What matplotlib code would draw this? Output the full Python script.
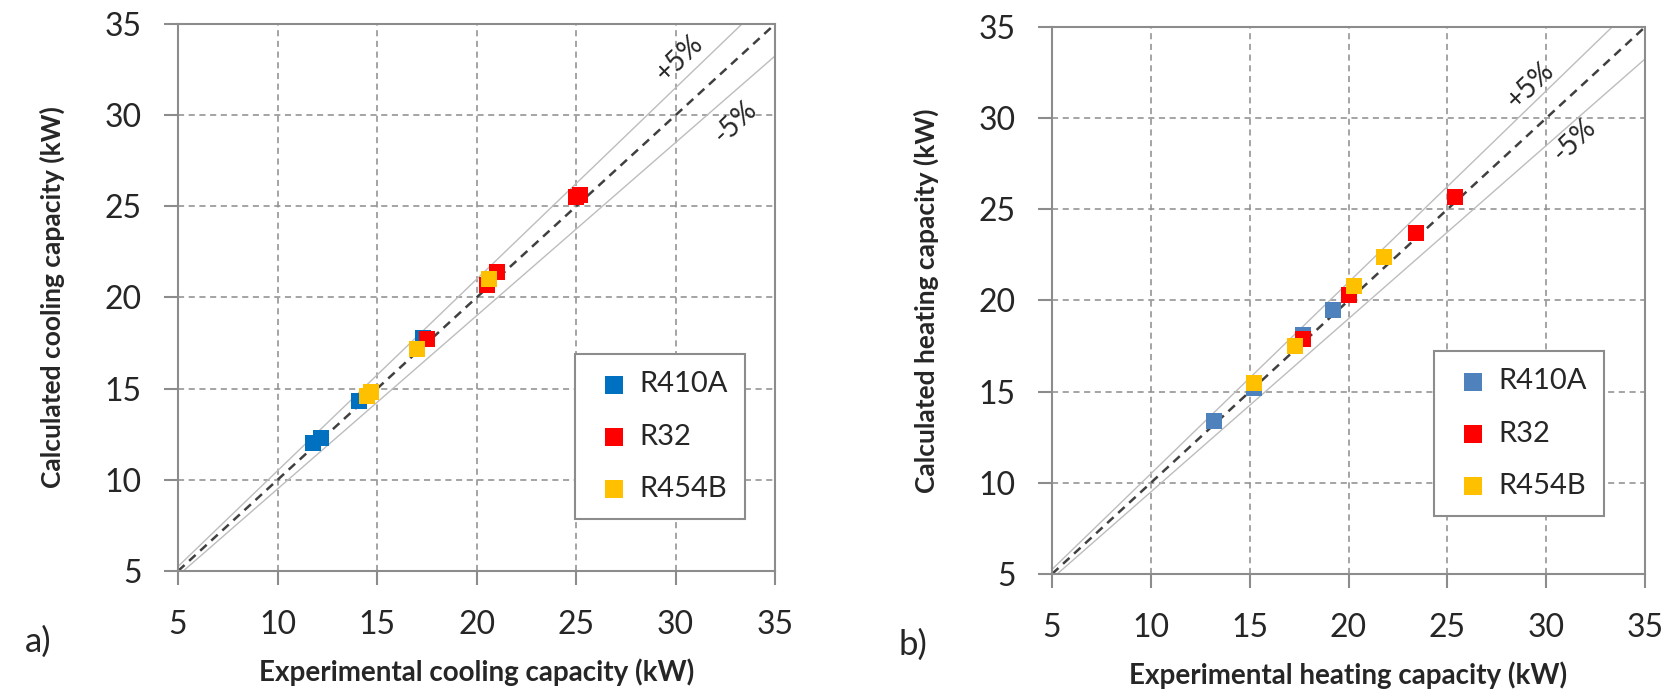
import matplotlib
matplotlib.use("Agg")
import matplotlib.pyplot as plt
import numpy as np

plt.rcParams['font.family'] = ['Lato', 'DejaVu Sans']

# panel a) cooling capacity, experimental vs calculated (kW)
cool_r410a_x = [11.8, 12.2, 14.1, 17.3]
cool_r410a_y = [12.0, 12.3, 14.3, 17.8]
cool_r32_x = [17.5, 20.5, 21.0, 25.0, 25.2]
cool_r32_y = [17.7, 20.7, 21.4, 25.5, 25.6]
cool_r454b_x = [14.5, 14.7, 17.0, 20.6]
cool_r454b_y = [14.6, 14.8, 17.2, 21.0]

# panel b) heating capacity
heat_r410a_x = [13.2, 15.2, 17.7, 19.2]
heat_r410a_y = [13.4, 15.2, 18.1, 19.5]
heat_r32_x = [17.7, 20.0, 23.4, 25.4]
heat_r32_y = [17.9, 20.3, 23.7, 25.7]
heat_r454b_x = [15.2, 17.3, 20.3, 21.8]
heat_r454b_y = [15.5, 17.5, 20.8, 22.4]

ticks = [5, 10, 15, 20, 25, 30, 35]
diag = np.array([5, 35])

fig = plt.figure(figsize=(16.72, 6.97), dpi=100)
ax1 = fig.add_axes([0.1065, 0.1808, 0.3571, 0.7848])
ax2 = fig.add_axes([0.6292, 0.1765, 0.3547, 0.7848])

panels = [
    (ax1, '#0070C0',
     [(cool_r410a_x, cool_r410a_y), (cool_r32_x, cool_r32_y), (cool_r454b_x, cool_r454b_y)],
     'Experimental cooling capacity (kW)', 'Calculated cooling capacity (kW)', 'a)',
     (0.665, 0.397), (30.2, 33.1), (33.0, 29.6)),
    (ax2, '#4F81BD',
     [(heat_r410a_x, heat_r410a_y), (heat_r32_x, heat_r32_y), (heat_r454b_x, heat_r454b_y)],
     'Experimental heating capacity (kW)', 'Calculated heating capacity (kW)', 'b)',
     (0.644, 0.408), (29.2, 31.8), (31.4, 28.8)),
]

for ax, blue, series, xlab, ylab, tag, leg_pos, plus_pos, minus_pos in panels:
    ax.set_xlim(5, 35)
    ax.set_ylim(5, 35)
    ax.set_xticks(ticks)
    ax.set_yticks(ticks)
    ax.grid(True, color='#8c8c8c', linestyle=(0, (4, 3)), linewidth=1.1)
    ax.set_axisbelow(True)
    for s in ax.spines.values():
        s.set_color('#8c8c8c')
        s.set_linewidth(1.5)
    ax.tick_params(direction='out', length=10, width=1.5, color='#8c8c8c',
                   labelsize=23, labelcolor='#262626')
    ax.tick_params(axis='x', pad=18)
    ax.tick_params(axis='y', pad=16)

    # +/-5% band and 1:1 line
    ax.plot(diag, diag * 1.05, color='#bdbdbd', linewidth=1.0, zorder=2)
    ax.plot(diag, diag * 0.95, color='#bdbdbd', linewidth=1.0, zorder=2)
    ax.plot(diag, diag, color='#404040', linewidth=1.8, linestyle=(0, (3.5, 2.5)), zorder=2)

    colors = [blue, '#FF0000', '#FFC000']
    names = ['R410A', 'R32', 'R454B']
    for (x, y), c, n in zip(series, colors, names):
        ax.scatter(x, y, marker='s', s=125, color=c, linewidths=0, label=n, zorder=3)

    ax.text(*plus_pos, '+5%', rotation=44, fontsize=20, color='#262626',
            ha='center', va='center', rotation_mode='anchor')
    ax.text(*minus_pos, '-5%', rotation=44, fontsize=20, color='#262626',
            ha='center', va='center', rotation_mode='anchor')

    leg = ax.legend(loc='upper left', bbox_to_anchor=leg_pos, borderaxespad=0,
                    fontsize=21, frameon=True, fancybox=False, framealpha=1,
                    edgecolor='#8c8c8c', labelspacing=0.9, handletextpad=0.1,
                    borderpad=0.6, markerscale=1.1, handlelength=1.5)
    leg.get_frame().set_linewidth(1.5)
    for t in leg.get_texts():
        t.set_color('#262626')

    ax.set_xlabel(xlab, fontsize=20, fontweight='bold', color='#262626')
    ax.set_ylabel(ylab, fontsize=19, fontweight='bold', color='#262626')
    ax.xaxis.set_label_coords(0.5, -0.16)
    ax.yaxis.set_label_coords(-0.19, 0.5)
    ax.text(-0.235, -0.13, tag, transform=ax.transAxes, fontsize=25,
            color='#262626', ha='center', va='center')

fig.savefig('out.png', dpi=100)
